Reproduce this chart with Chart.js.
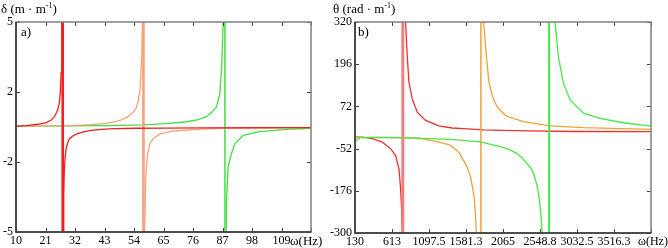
<!DOCTYPE html>
<html><head><meta charset="utf-8">
<script src="https://cdn.jsdelivr.net/npm/chart.js@4.4.0/dist/chart.umd.min.js"></script>
<style>
html,body{margin:0;padding:0;background:#fff;}
body{width:668px;height:248px;position:relative;overflow:hidden;font-family:"Liberation Serif",serif;color:#000;}
.box{position:absolute;top:0;height:248px;}
.t{position:absolute;white-space:nowrap;font-size:13px;line-height:1;}
.s{font-size:8px;position:relative;top:-5px;}
</style></head><body>
<div class="box" style="left:0;width:334px"><canvas id="c1"></canvas></div>
<div class="box" style="left:318px;width:350px"><canvas id="c2"></canvas></div>
<div class="t" style="left:1px;top:2px">δ (m · m<span class="s">-1</span>)</div>
<div class="t" style="left:333px;top:2px">θ (rad · m<span class="s">-1</span>)</div>
<div class="t" style="left:21px;top:25px">a)</div>
<div class="t" style="left:358px;top:25px">b)</div>
<div class="t" style="left:290px;top:234px">ω(Hz)</div>
<div class="t" style="left:638px;top:235px;font-size:12px">ω(Hz)</div>
<script>
// ---------- chart a) : δ (m·m^-1) vs ω (Hz) ----------
const aTicksX = [10,21,32,43,54,65,76,87,98,109,120];
const aTickLabelsX = ['10','21','32','43','54','65','76','87','98','109',''];
const aTicksY = [-5,-1.667,1.667,5];
const aTickLabelsY = ['-5','-2','2','5'];

const aRedW = [10,14,18,21,23,24.3,25.5,26.1,26.5,26.8,27.0,27.15,27.35,27.45,27.65,27.8,28.0,28.3,28.7,29.3,29.9,31.5,33,35.5,38,42,46.6,55,65,80,100,120];
const aRedD = [0.04,0.07,0.13,0.2,0.32,0.48,0.8,1.1,1.6,2.6,4.0,5.5,40,-40,-5.5,-3.2,-2.14,-1.5,-1.03,-0.75,-0.56,-0.4,-0.32,-0.22,-0.16,-0.11,-0.08,-0.06,-0.05,-0.04,-0.035,-0.03];

const aOrangeW = [10,20,30,38,43,46.6,49,51.6,53.5,54.7,55.7,56.3,56.9,57.2,57.45,57.55,57.9,58.4,59,60,60.8,61.5,63.7,68.7,77.4,86,100,120];
const aOrangeD = [0.03,0.05,0.07,0.11,0.16,0.24,0.33,0.48,0.68,0.87,1.3,1.83,3.4,5.5,40,-40,-5.5,-2.3,-1.35,-0.75,-0.62,-0.52,-0.33,-0.19,-0.11,-0.07,-0.045,-0.03];

const aGreenW = [10,30,45,57.5,66,73.6,78,81,83,84.8,86,86.7,87.1,87.35,87.85,87.95,88.3,88.5,89.1,90.4,91.6,94.7,100.9,110.8,120];
const aGreenD = [0.04,0.05,0.07,0.1,0.16,0.25,0.35,0.49,0.7,0.97,1.6,2.87,4.4,5.5,40,-40,-5.5,-3.5,-1.9,-1.25,-0.8,-0.4,-0.22,-0.11,-0.06];

// ---------- chart b) : θ (rad·m^-1) vs ω (Hz) ----------
const bTicksX = [130,613.75,1097.5,1581.25,2065,2548.75,3032.5,3516.25,4000];
const bTickLabelsX = ['130','613','1097.5','1581.3','2065','2548.8','3032.5','3516.3',''];
const bTicksY = [-300,-176,-52,72,196,320];
const bTickLabelsY = ['-300','-176','-52','72','196','320'];

const bRedW = [130,225,356,487,595,660,705,726,739,748,753,755,791,813,835,878,944,1052,1227,1400,1600,1810,2054,2400,3000,4000];
const bRedT = [-18,-18,-23,-33,-52,-72,-111,-170,-228,-300,-3000,3000,320,222,143,94,55,31,15,8.5,6,3,1.5,0,-1.8,-2.3];

const bOrangeW = [130,500,966,1227,1375,1450,1505,1531,1593,1640,1670,1690,1705,1716,1772,1776,1812,1840,1880,1930,1985,2054,2115,2333,2681,3117,4000];
const bOrangeT = [-19,-19,-21,-33,-42,-55,-68,-80,-105,-135,-170,-200,-245,-300,-3000,3000,320,240,145,100,72,55,43,27,15,9.5,4.7];

const bGreenW = [130,155,200,400,700,1000,1375,1766,2028,2150,2245,2320,2376,2430,2463,2515,2541,2562,2578,2666,2670,2746,2789,2855,2942,3116,3334,3638,4000];
const bGreenT = [-34,-26,-20,-19,-20,-22,-25,-32,-46,-55,-66,-80,-95,-110,-124,-164,-203,-250,-300,-3000,3000,320,218,140,91,52,37,24,14];

const pts = (xs, ys) => xs.map((x, i) => ({x, y: ys[i]}));

const FONT = {family: 'Liberation Serif', size: 12};

const frame = {
  id: 'frame',
  afterDatasetsDraw(chart) {
    const {ctx, chartArea: a, scales: {x, y}} = chart;
    ctx.save();
    ctx.strokeStyle = '#444';
    ctx.lineWidth = 1;
    ctx.beginPath();
    x.ticks.forEach(t => {
      const px = Math.round(x.getPixelForValue(t.value)) + 0.5;
      ctx.moveTo(px, a.bottom); ctx.lineTo(px, a.bottom - 4);
      ctx.moveTo(px, a.top); ctx.lineTo(px, a.top + 4);
    });
    y.ticks.forEach(t => {
      const py = Math.round(y.getPixelForValue(t.value)) + 0.5;
      ctx.moveTo(a.left, py); ctx.lineTo(a.left + 4, py);
      ctx.moveTo(a.right, py); ctx.lineTo(a.right - 4, py);
    });
    ctx.stroke();
    ctx.strokeStyle = '#808080';
    ctx.lineWidth = 1.5;
    ctx.strokeRect(a.left, a.top, a.right - a.left, a.bottom - a.top);
    ctx.strokeStyle = '#333';
    ctx.beginPath();
    ctx.moveTo(a.left, a.top); ctx.lineTo(a.left, a.bottom); ctx.lineTo(a.right, a.bottom);
    ctx.stroke();
    ctx.restore();
  }
};

function series(xs, ys, color, vColor, vWidth, lim) {
  const isV = c => Math.abs(c.p0.parsed.y) > lim && Math.abs(c.p1.parsed.y) > lim && c.p0.parsed.y * c.p1.parsed.y < 0;
  return {
    data: pts(xs, ys),
    borderColor: color,
    borderWidth: 1.3,
    pointRadius: 0,
    tension: 0,
    fill: false,
    segment: {
      borderWidth: c => isV(c) ? vWidth : 1.3,
      borderColor: c => isV(c) ? vColor : color
    }
  };
}

function makeChart(id, datasets, xr, yr, tx, txl, ty, tyl, yW, xH, pad) {
  return new Chart(document.getElementById(id), {
    type: 'line',
    data: {datasets},
    options: {
      responsive: true,
      maintainAspectRatio: false,
      animation: false,
      events: [],
      layout: {padding: pad},
      plugins: {legend: {display: false}, tooltip: {enabled: false}},
      scales: {
        x: {
          type: 'linear', min: xr[0], max: xr[1],
          grid: {display: false, drawTicks: false}, border: {display: false},
          afterBuildTicks: s => { s.ticks = tx.map(v => ({value: v})); },
          afterFit: s => { s.height = xH; },
          ticks: {autoSkip: false, maxRotation: 0, minRotation: 0, padding: 2, color: '#000', font: FONT,
                  callback: (v, i) => txl[i]}
        },
        y: {
          type: 'linear', min: yr[0], max: yr[1],
          grid: {display: false, drawTicks: false}, border: {display: false},
          afterBuildTicks: s => { s.ticks = ty.map(v => ({value: v})); },
          afterFit: s => { s.width = yW; },
          ticks: {autoSkip: false, padding: 3, color: '#000', font: FONT,
                  callback: (v, i) => tyl[i]}
        }
      }
    },
    plugins: [frame]
  });
}

makeChart('c1', [
  series(aRedW, aRedD, '#f02020', '#f02020', 2.5, 6),
  series(aOrangeW, aOrangeD, '#f5a37a', '#f5a37a', 2.5, 6),
  series(aGreenW, aGreenD, '#3fe03f', '#3fe03f', 1.5, 6)
], [10, 120], [-5, 5], aTicksX, aTickLabelsX, aTicksY, aTickLabelsY, 16, 16, {left: 0, top: 22, right: 23, bottom: 0});

makeChart('c2', [
  series(bGreenW, bGreenT, '#48e648', '#48e648', 2, 400),
  series(bOrangeW, bOrangeT, '#f5a035', '#f5a035', 1.5, 400),
  series(bRedW, bRedT, '#ee3030', '#f08080', 3, 400)
], [130, 4000], [-300, 320], bTicksX, bTickLabelsX, bTicksY, bTickLabelsY, 37, 15, {left: 0, top: 22, right: 17, bottom: 0});
</script>
</body></html>
